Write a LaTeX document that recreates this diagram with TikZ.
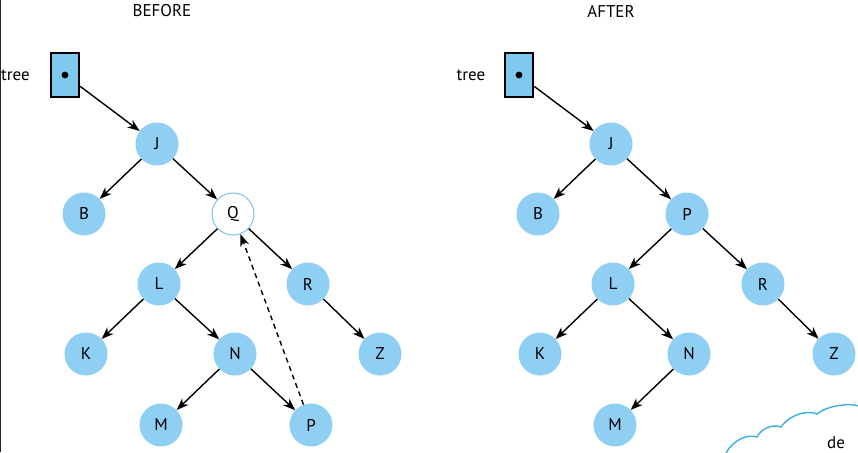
\documentclass[tikz,border=0pt]{standalone}
\usepackage{fontspec}
\setmainfont{PT Sans}
\usetikzlibrary{arrows.meta}
\definecolor{nodeblue}{HTML}{8FCFF3}
\definecolor{boxblue}{HTML}{80C9EE}
\definecolor{ringblue}{HTML}{7CC4EC}
\definecolor{cloudblue}{HTML}{3BB0E0}
\tikzset{
  tnode/.style={circle,fill=nodeblue,minimum size=43pt,inner sep=0pt,font=\fontsize{17}{19}\selectfont},
  hollow/.style={circle,fill=white,draw=ringblue,line width=1pt,minimum size=42pt,inner sep=0pt,font=\fontsize{17}{19}\selectfont},
  ptrbox/.style={draw=black,line width=2.4pt,fill=boxblue,minimum width=28pt,minimum height=44pt,inner sep=0pt},
  edge/.style={draw=black,line width=1.4pt,-{Stealth[length=12pt,width=9pt,inset=3.5pt]}},
  dedge/.style={edge,dashed,dash pattern=on 5pt off 4pt},
  lbl/.style={font=\fontsize{17}{19}\selectfont,inner sep=0pt}
}
\begin{document}
\begin{tikzpicture}[x=1pt,y=-1pt]
\useasboundingbox (0,0) rectangle (858,452);
\fill[white] (0,0) rectangle (858,452);
\draw[line width=1.2pt,black!85] (0.6,0) -- (0.6,452);
% BEFORE
\node[lbl] (tb) at (162,11) {BEFORE};
\node[ptrbox] (box1) at (65,75) {};
\fill (65,75) circle (3.4pt);
\node[lbl,anchor=west] (tr1) at (1,75) {tree};
\node[tnode] (J1) at (157,144) {J};
\node[tnode] (B1) at (84,214) {B};
\node[hollow] (Q1) at (233,214) {Q};
\node[tnode] (L1) at (159,284) {L};
\node[tnode] (R1) at (308,284) {R};
\node[tnode] (K1) at (86,354) {K};
\node[tnode] (N1) at (235,354) {N};
\node[tnode] (Z1) at (380,354) {Z};
\node[tnode] (M1) at (161,425) {M};
\node[tnode] (P1) at (311,425) {P};
\draw[edge] (box1) -- (J1);
\draw[edge] (J1) -- (B1);
\draw[edge] (J1) -- (Q1);
\draw[edge] (Q1) -- (L1);
\draw[edge] (Q1) -- (R1);
\draw[edge] (L1) -- (K1);
\draw[edge] (L1) -- (N1);
\draw[edge] (R1) -- (Z1);
\draw[edge] (N1) -- (M1);
\draw[edge] (N1) -- (P1);
\draw[dedge] (P1) -- (Q1);
% AFTER
\node[lbl] (ta) at (611,11) {AFTER};
\node[ptrbox] (box2) at (519,75) {};
\fill (519,75) circle (3.4pt);
\node[lbl] (tr2) at (471,75) {tree};
\node[tnode] (J2) at (611,144) {J};
\node[tnode] (B2) at (538,214) {B};
\node[tnode] (P2) at (687,214) {P};
\node[tnode] (L2) at (613,284) {L};
\node[tnode] (R2) at (763,284) {R};
\node[tnode] (K2) at (540,354) {K};
\node[tnode] (N2) at (689,354) {N};
\node[tnode] (Z2) at (834,354) {Z};
\node[tnode] (M2) at (615,425) {M};
\draw[edge] (box2) -- (J2);
\draw[edge] (J2) -- (B2);
\draw[edge] (J2) -- (P2);
\draw[edge] (P2) -- (L2);
\draw[edge] (P2) -- (R2);
\draw[edge] (L2) -- (K2);
\draw[edge] (L2) -- (N2);
\draw[edge] (R2) -- (Z2);
\draw[edge] (N2) -- (M2);
% cloud
\draw[cloudblue,line width=1.4pt] (726,453) .. controls (734,439) and (748,434) .. (757,437)
  .. controls (762,428) and (772,424) .. (781,427)
  .. controls (790,414) and (808,410) .. (817,414)
  .. controls (828,405) and (850,403) .. (859,406);
\node[lbl,anchor=west] (de) at (827,443) {de};
\end{tikzpicture}
\end{document}
